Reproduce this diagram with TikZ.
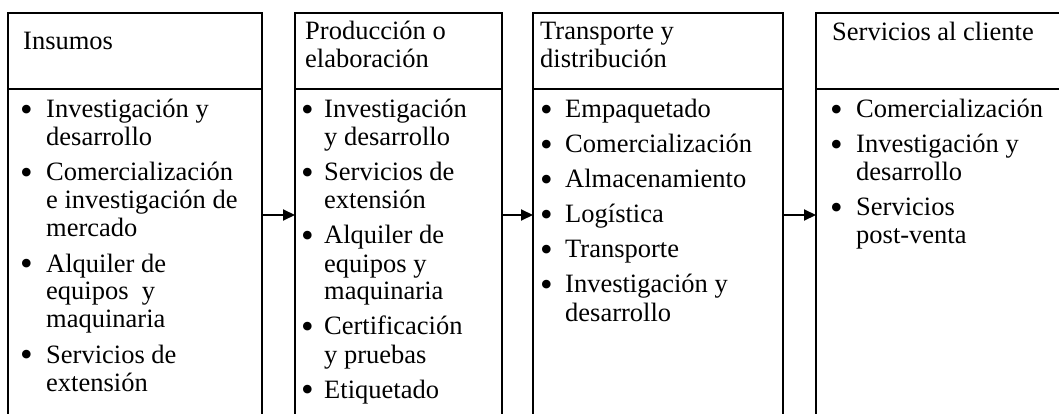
\documentclass[tikz,border=0pt]{standalone}
\usepackage{fontspec}
\setmainfont{Liberation Serif}
\usetikzlibrary{positioning,arrows.meta}

\newcommand{\bul}[1]{\makebox[#1][l]{\hspace{-4pt}\raisebox{-3.5pt}{\fontsize{36}{28}\selectfont\textbullet}}}

\tikzset{
  headbox/.style={draw, line width=2pt, inner sep=0pt, outer sep=0pt,
    minimum height=76pt, minimum width=#1},
  bodybox/.style={draw, line width=2pt, inner sep=0pt, outer sep=0pt,
    minimum height=345pt, minimum width=#1},
  headtxt/.style={inner sep=0pt, anchor=base west, align=left,
    font=\fontsize{26.5}{28}\selectfont},
  itemtxt/.style={inner sep=0pt, anchor=base west,
    font=\fontsize{26.5}{28}\selectfont},
  flow/.style={line width=2pt, -{Triangle[length=12pt,width=11pt]}}
}

\begin{document}
\begin{tikzpicture}[x=1pt,y=-1pt]
        \useasboundingbox (0,0) rectangle (1059,414);
        %% columns
        \node[headbox=254pt, anchor=north west] (ins) at (8,13) {};
        \node[bodybox=254pt, below=0pt of ins] (insb) {};
        \node[headbox=207pt, anchor=north west] (prod) at (295,13) {};
        \node[bodybox=207pt, below=0pt of prod] (prodb) {};
        \node[headbox=250pt, anchor=north west] (trans) at (533,13) {};
        \node[bodybox=250pt, below=0pt of trans] (transb) {};
        \node[headbox=254pt, anchor=north west] (serv) at (816,13) {};
        \node[bodybox=254pt, below=0pt of serv] (servb) {};
        %% titles (base = last line)
        \node[headtxt] (inst)   at (23,50)  {Insumos};
        \node[headtxt] (prodt)  at (305,68) {Producción o\\elaboración};
        \node[headtxt] (transt) at (540,68) {Transporte y\\distribución};
        \node[headtxt] (servt)  at (832,41) {Servicios al cliente};
        %% lists
        \node[itemtxt] (insi) at (24,118) {\begin{tabular}[t]{@{}l@{}l@{}}
          \bul{22pt} & Investigación y\\ & desarrollo\\[7pt]
          \bul{22pt} & Comercialización\\ & e investigación de\\ & mercado\\[7pt]
          \bul{22pt} & Alquiler de\\ & equipos~ y\\ & maquinaria\\[7pt]
          \bul{22pt} & Servicios de\\ & extensión
        \end{tabular}};
        \node[itemtxt] (prodi) at (305,118) {\begin{tabular}[t]{@{}l@{}l@{}}
          \bul{19pt} & Investigación\\ & y desarrollo\\[7pt]
          \bul{19pt} & Servicios de\\ & extensión\\[7pt]
          \bul{19pt} & Alquiler de\\ & equipos y\\ & maquinaria\\[7pt]
          \bul{19pt} & Certificación\\ & y pruebas\\[7pt]
          \bul{19pt} & Etiquetado
        \end{tabular}};
        \node[itemtxt] (transi) at (544,118) {\begin{tabular}[t]{@{}l@{}l@{}}
          \bul{21pt} & Empaquetado\\[7pt]
          \bul{21pt} & Comercialización\\[7pt]
          \bul{21pt} & Almacenamiento\\[7pt]
          \bul{21pt} & Logística\\[7pt]
          \bul{21pt} & Transporte\\[7pt]
          \bul{21pt} & Investigación y\\ & desarrollo
        \end{tabular}};
        \node[itemtxt] (servi) at (834,118) {\begin{tabular}[t]{@{}l@{}l@{}}
          \bul{22pt} & Comercialización\\[7pt]
          \bul{22pt} & Investigación y\\ & desarrollo\\[7pt]
          \bul{22pt} & Servicios\\ & post-venta
        \end{tabular}};
        %% arrows
        \coordinate (lvl) at (0,215);
        \draw[flow] (insb.east |- lvl) -- (prodb.west |- lvl);
        \draw[flow] (prodb.east |- lvl) -- (transb.west |- lvl);
        \draw[flow] (transb.east |- lvl) -- (servb.west |- lvl);
\end{tikzpicture}
\end{document}
